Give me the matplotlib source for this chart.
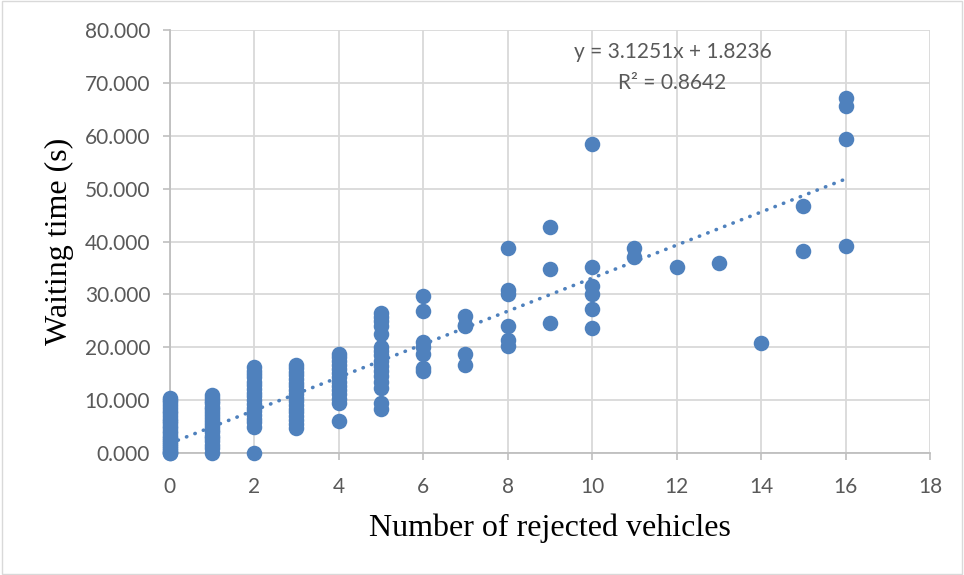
import matplotlib
matplotlib.use("Agg")
import matplotlib.pyplot as plt
from matplotlib.patches import Rectangle

# ---- data ----
wait_x0 = [0.0, 0.1, 0.3, 0.6, 0.9, 1.3, 1.7, 2.1, 2.5, 2.9, 3.3, 3.8, 4.2, 4.7, 5.1, 5.6, 6.0,
           6.5, 7.0, 7.5, 8.0, 8.6, 9.1, 9.6, 10.1, 10.5]
wait_x1 = [0.0, 1.0, 1.6, 2.2, 2.8, 3.3, 3.9, 4.4, 5.0, 5.5, 6.1, 6.6, 7.2, 7.7, 8.3, 8.8,
           9.4, 9.9, 10.5, 11.0]
wait_x2 = [0.0, 5.0, 5.8, 6.5, 7.2, 7.9, 8.6, 9.3, 10.0, 10.7, 11.4, 12.1, 12.8, 13.5, 14.3,
           15.0, 15.6, 16.3]
wait_x3 = [4.8, 5.5, 6.2, 7.0, 7.7, 8.4, 9.1, 9.8, 10.5, 11.2, 11.9, 12.6, 13.3, 14.0, 14.7,
           15.4, 16.0, 16.6]
wait_x4 = [6.0, 9.5, 10.3, 11.1, 11.9, 12.7, 13.5, 14.3, 15.1, 15.9, 16.7, 17.5, 18.1, 18.7]
wait_x5 = [8.3, 9.5, 12.3, 13.5, 14.5, 15.5, 16.5, 17.5, 18.5, 19.3, 20.0, 22.5, 24.0, 25.0,
           25.8, 26.4]
wait_x6 = [15.5, 16.0, 18.8, 20.0, 21.0, 26.8, 29.7]
wait_x7 = [16.7, 18.8, 24.0, 24.3, 26.0]
wait_x8 = [20.2, 21.3, 24.0, 30.0, 30.8, 38.8]
wait_x9 = [24.6, 34.8, 42.7]
wait_x10 = [23.6, 27.2, 30.1, 31.6, 35.2, 58.5]
wait_x11 = [37.0, 38.7]
wait_x12 = [35.2]
wait_x13 = [36.0]
wait_x14 = [20.8]
wait_x15 = [38.2, 46.8]
wait_x16 = [39.1, 59.4, 65.7, 67.1]

rejected_levels = list(range(17))
waiting_groups = [wait_x0, wait_x1, wait_x2, wait_x3, wait_x4, wait_x5, wait_x6, wait_x7,
                  wait_x8, wait_x9, wait_x10, wait_x11, wait_x12, wait_x13, wait_x14,
                  wait_x15, wait_x16]

trend_slope = 3.1251
trend_intercept = 1.8236
r_squared = 0.8642

x_ticks = [0, 2, 4, 6, 8, 10, 12, 14, 16, 18]
y_ticks = [0, 10, 20, 30, 40, 50, 60, 70, 80]

xs, ys = [], []
for lvl, grp in zip(rejected_levels, waiting_groups):
    xs.extend([lvl] * len(grp))
    ys.extend(grp)

blue = "#4f81bd"
gray_txt = "#595959"
grid_c = "#d9d9d9"

fig = plt.figure(figsize=(9.64, 5.75), dpi=100)
fig.patches.append(Rectangle((0.002, 0.002), 0.996, 0.996, transform=fig.transFigure,
                             fill=False, edgecolor="#d9d9d9", linewidth=1.0))
ax = fig.add_axes([0.176, 0.212, 0.789, 0.736])

ax.scatter(xs, ys, s=125, color=blue, zorder=3, linewidths=0, clip_on=False)

tx = [0, 16]
ty = [trend_slope * v + trend_intercept for v in tx]
ax.plot(tx, ty, linestyle=(0, (0.1, 2.4)), color=blue, linewidth=2.6, zorder=4,
        dash_capstyle="round", clip_on=False)

ax.set_xlim(0, 18)
ax.set_ylim(0, 80)
ax.set_xticks(x_ticks)
ax.set_yticks(y_ticks)
ax.set_xticklabels([str(t) for t in x_ticks])
ax.set_yticklabels([f"{t:.3f}" for t in y_ticks])
ax.grid(True, color=grid_c, linewidth=1.3, zorder=0)
ax.set_axisbelow(True)
for s in ["top", "right"]:
    ax.spines[s].set_visible(False)
for s in ["left", "bottom"]:
    ax.spines[s].set_color("#bfbfbf")
    ax.spines[s].set_linewidth(1.3)
ax.tick_params(axis="both", colors="#bfbfbf", labelcolor=gray_txt, length=5, width=1.2,
               labelsize=15)
ax.tick_params(axis="x", pad=12)
ax.tick_params(axis="y", pad=9)
for lab in ax.get_xticklabels() + ax.get_yticklabels():
    lab.set_family(["Lato", "DejaVu Sans"])

ax.set_xlabel("Number of rejected vehicles", family="Liberation Serif", fontsize=23,
              color="black", labelpad=12)
ax.set_ylabel("Waiting time (s)", family="Liberation Serif", fontsize=23,
              color="black", labelpad=8)

ax.text(11.9, 72.9, f"y = {trend_slope}x + {trend_intercept}\nR² = {r_squared}",
        ha="center", va="center", fontsize=15, color=gray_txt,
        family=["Lato", "DejaVu Sans"], linespacing=1.7)

fig.savefig("out.png", dpi=100)
